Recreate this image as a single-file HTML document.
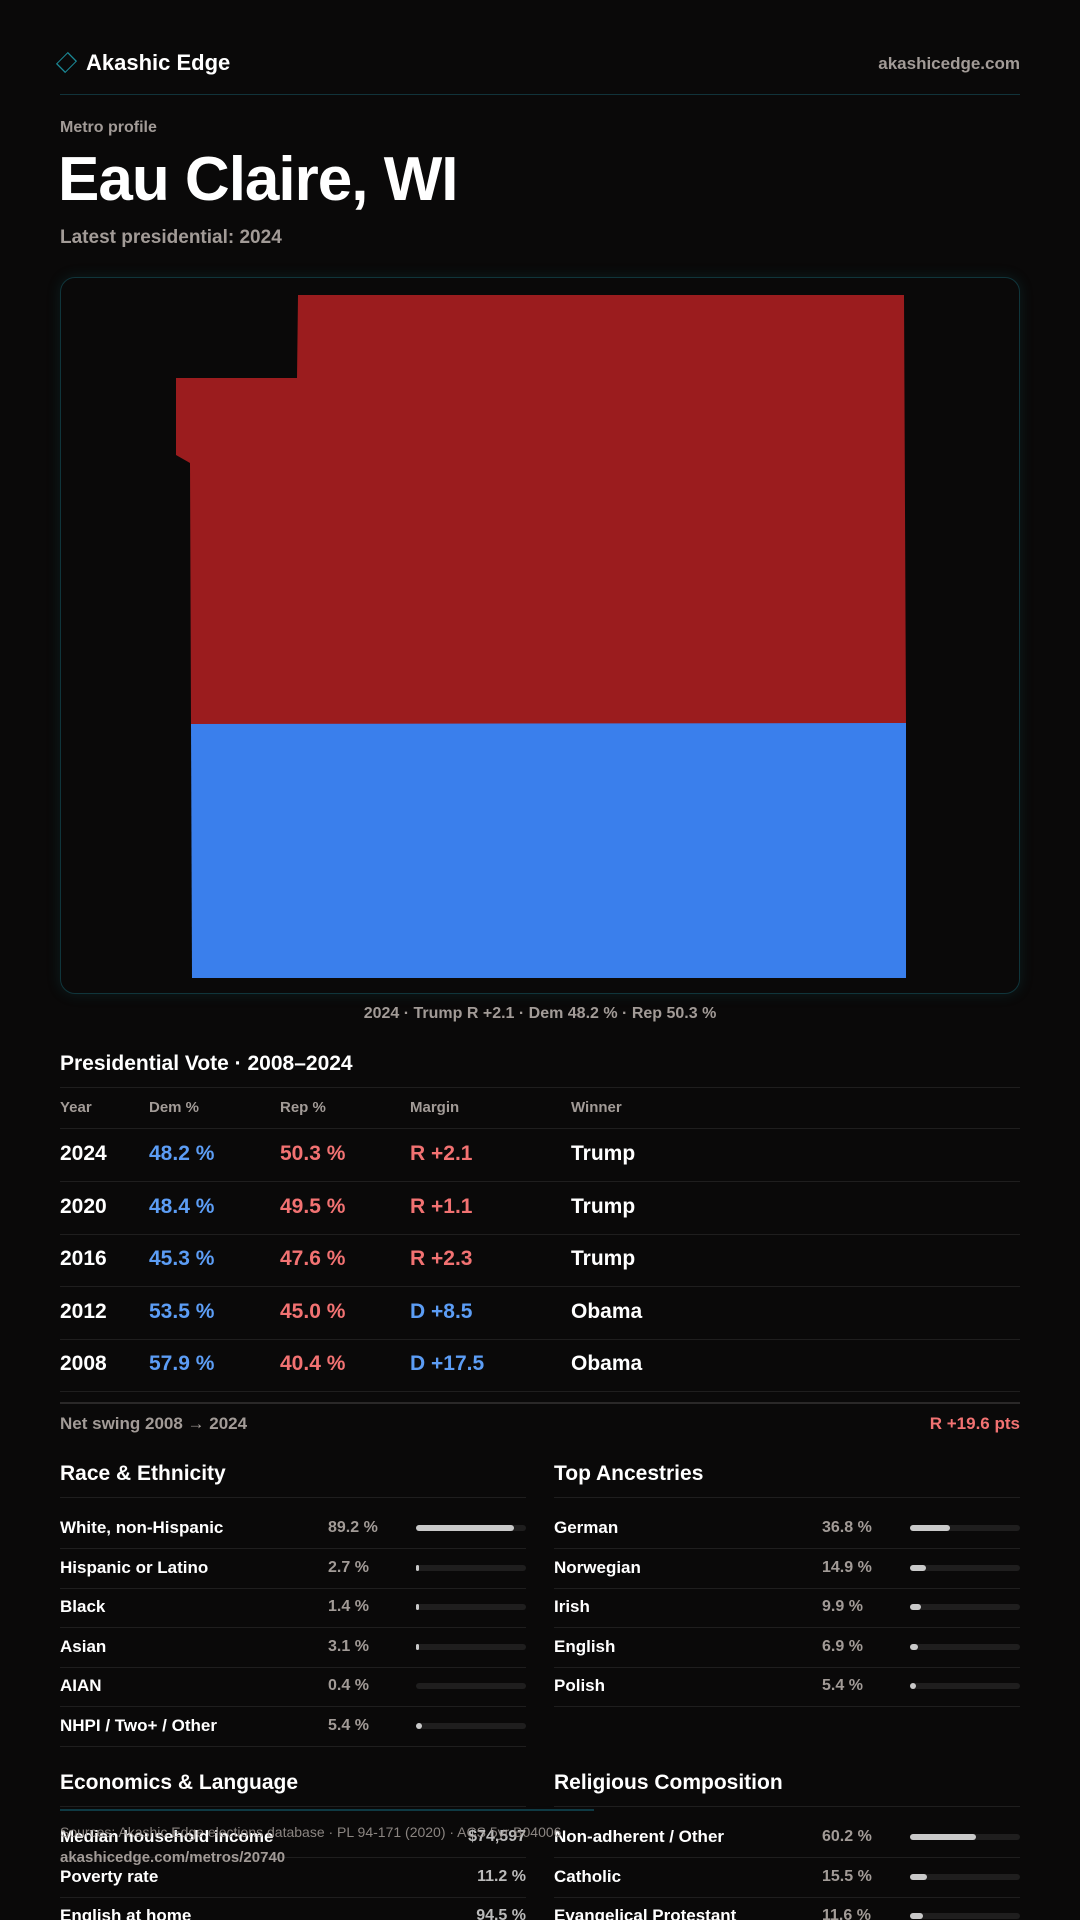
<!DOCTYPE html>
<html><head><meta charset="utf-8">
<style>
*{box-sizing:border-box;margin:0;padding:0}
html,body{width:1080px;height:1920px;overflow:hidden;background:#0a0909;color:#fff;font-family:"Liberation Sans",sans-serif}
.abs{position:absolute}
.muted{color:#a29b97}
.blue{color:#5c9df5}
.red{color:#f27272}
.row-line{position:absolute;height:1px;background:#1f1e1e}
</style></head>
<body>
<div id="root" style="position:relative;width:1080px;height:1920px">
  <div class="abs" style="left:60px;top:56px;width:13px;height:13px;border:1.5px solid #1b8a97;transform:rotate(45deg) scaleY(1.3)"></div>
  <div class="abs" style="left:86px;top:50px;font-size:22px;font-weight:bold">Akashic Edge</div>
  <div class="abs muted" style="right:60px;top:54px;font-size:17px;font-weight:bold">akashicedge.com</div>
  <div class="abs" style="left:60px;top:94px;width:960px;height:1px;background:#11333a"></div>
  <div class="abs muted" style="left:60px;top:119px;font-size:16px;font-weight:bold">Metro profile</div>
  <div class="abs" style="left:58px;top:144px;font-size:62px;font-weight:bold;letter-spacing:-1px">Eau Claire, WI</div>
  <div class="abs muted" style="left:60px;top:227px;font-size:19px;font-weight:bold">Latest presidential: 2024</div>

  <div class="abs" style="left:60px;top:277px;width:960px;height:717px;border:1px solid #10353b;border-radius:15px;box-shadow:0 0 14px rgba(20,120,130,.18);background:#0a0909"></div>
  <svg class="abs" style="left:0;top:0" width="1080" height="1000">
    <path fill="#9b1c1e" d="M298 295 L904 295 L906 724 L191 724 L190 463 L176 455 L176 378 L297 378 Z"/>
    <path fill="#3a7fec" d="M191 724 L906 723 L906 978 L192 978 Z"/>
  </svg>
  <div class="abs muted" style="left:0;width:1080px;text-align:center;top:1005px;font-size:16px;font-weight:bold">2024 · Trump R +2.1 · Dem 48.2 % · Rep 50.3 %</div>

  <div class="abs" style="left:60px;top:1052px;font-size:21px;font-weight:bold">Presidential Vote · 2008–2024</div>
  <div class="row-line" style="left:60px;top:1087px;width:960px"></div>
  <div id="vote"></div>
  <div class="row-line" style="left:60px;top:1402px;width:960px;height:2px;background:#2a2828"></div>
  <div class="abs muted" style="left:60px;top:1414px;font-size:17px;font-weight:bold">Net swing 2008 → 2024</div>
  <div class="abs red" style="right:60px;top:1414px;font-size:17px;font-weight:bold">R +19.6 pts</div>

  <div id="panels"></div>

  <div class="abs" style="left:60px;top:1809px;width:534px;height:2px;background:#0f3a44"></div>
  <div class="abs muted" style="left:60px;top:1824px;font-size:14px;opacity:.85">Sources: Akashic Edge elections database · PL 94-171 (2020) · ACS 5yr B04006</div>
  <div class="abs muted" style="left:60px;top:1849px;font-size:15px;font-weight:bold">akashicedge.com/metros/20740</div>
</div>
<script>
const years=["2024","2020","2016","2012","2008"];
const demPct=[48.2,48.4,45.3,53.5,57.9];
const repPct=[50.3,49.5,47.6,45.0,40.4];
const winners=["Trump","Trump","Trump","Obama","Obama"];

const raceLabels=["White, non-Hispanic","Hispanic or Latino","Black","Asian","AIAN","NHPI / Two+ / Other"];
const raceValues=[89.2,2.7,1.4,3.1,0.4,5.4];
const ancLabels=["German","Norwegian","Irish","English","Polish"];
const ancValues=[36.8,14.9,9.9,6.9,5.4];
const econLabels=["Median household income","Poverty rate","English at home"];
const econValues=["$74,597","11.2 %","94.5 %"];
const relLabels=["Non-adherent / Other","Catholic","Evangelical Protestant"];
const relValues=[60.2,15.5,11.6];

function mk(parent,css,text,cls){const d=document.createElement('div');d.className='abs '+(cls||'');d.style.cssText=css;if(text!==undefined)d.textContent=text;parent.appendChild(d);return d;}

const vt=document.getElementById('vote');
const cols=[60,149,280,410,571];
["Year","Dem %","Rep %","Margin","Winner"].forEach((h,i)=>{
  const e=mk(vt,`left:${cols[i]}px;top:1099px;font-size:15px;font-weight:bold`,h,'muted');
  
  
});
mk(vt,'left:60px;top:1128px;width:960px','','row-line');
years.forEach((y,i)=>{
  const top=1142+i*52.6;
  const m=repPct[i]-demPct[i];
  const mt=(m>0?'R +':'D +')+Math.abs(m).toFixed(1);
  const cells=[[y,''],[demPct[i].toFixed(1)+' %','blue'],[repPct[i].toFixed(1)+' %','red'],[mt,m>0?'red':'blue'],[winners[i],'']];
  cells.forEach((c,j)=>{
    const e=mk(vt,`left:${cols[j]}px;top:${top}px;font-size:21px;font-weight:bold`,c[0],c[1]);
    
    
  });
  const ln=mk(vt,`left:60px;top:${top+39}px;width:960px`,'','row-line');
  
  
});

const pn=document.getElementById('panels');
function panel(x,title,titleTop,labels,values,isBar,name){
  const t=mk(pn,`left:${x}px;top:${titleTop}px;font-size:21px;font-weight:bold`,title);
  
  
  mk(pn,`left:${x}px;top:${titleTop+35}px;width:466px`,'','row-line');
  labels.forEach((lab,i)=>{
    const top=titleTop+56+i*39.6;
    const l=mk(pn,`left:${x}px;top:${top}px;font-size:17px;font-weight:bold`,lab);
    
    
    if(isBar){
      const v=mk(pn,`left:${x+268}px;top:${top+1}px;font-size:16px;font-weight:bold`,values[i].toFixed(1)+' %','muted');
      
      
      const tr=mk(pn,`left:${x+356}px;top:${top+7}px;width:110px;height:6px;border-radius:3px;background:#1f1e1e`);
      
      
      const w=values[i]<1?0:Math.max(3,110*values[i]/100);
      const f=mk(tr,`left:0;top:0;width:${w}px;height:6px;border-radius:3px;background:#c9c9c9`);
      
      
    } else {
      const v=mk(pn,`right:${1080-x-466}px;top:${top+1}px;font-size:16px;font-weight:bold;color:#bbb`,values[i]);
      
      
    }
    mk(pn,`left:${x}px;top:${top+30}px;width:466px`,'','row-line');
  });
}
panel(60,"Race & Ethnicity",1462,raceLabels,raceValues,true,'race');
panel(554,"Top Ancestries",1462,ancLabels,ancValues,true,'ancestry');
panel(60,"Economics & Language",1771,econLabels,econValues,false,'economics');
panel(554,"Religious Composition",1771,relLabels,relValues,true,'religion');
</script>
</body></html>
